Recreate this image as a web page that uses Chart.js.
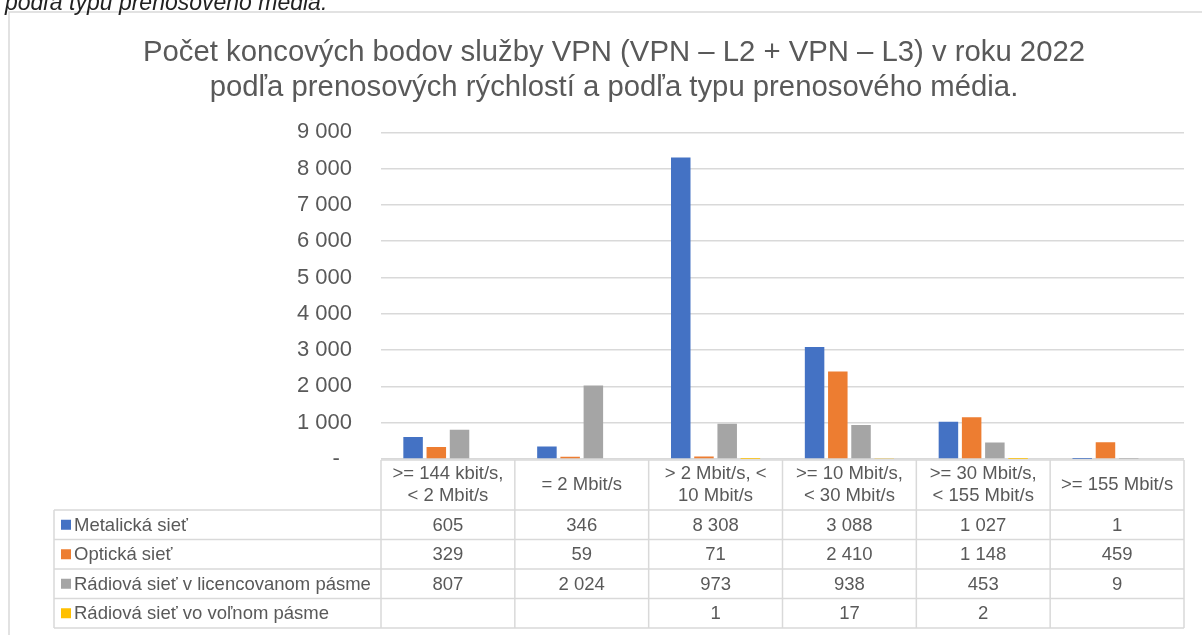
<!DOCTYPE html>
<html lang="sk">
<head>
<meta charset="utf-8">
<title>Koncové body VPN 2022</title>
<script src="https://cdn.jsdelivr.net/npm/chart.js@4.4.1/dist/chart.umd.min.js"></script>
<style>
    html, body { margin: 0; padding: 0; background: #fff; overflow: hidden; }
    #wrap { position: absolute; left: 0; top: 0; width: 1202px; height: 635px; }
    #caption {
        position: absolute; left: 5px; top: -9px; z-index: 2;
        font: italic 23px Arial, "Liberation Sans", sans-serif; line-height: 23px;
        color: #222; white-space: nowrap;
    }
</style>
</head>
<body>
<div id="wrap"><canvas id="vpnChart" width="1202" height="635"></canvas></div>
<div id="caption">podľa typu prenosového média.</div>
<script>
// Data
const categories = [
    ['>= 144 kbit/s,', '< 2 Mbit/s'],
    ['= 2 Mbit/s'],
    ['> 2 Mbit/s, <', '10 Mbit/s'],
    ['>= 10 Mbit/s,', '< 30 Mbit/s'],
    ['>= 30 Mbit/s,', '< 155 Mbit/s'],
    ['>= 155 Mbit/s']
];
const seriesNames = ['Metalická sieť', 'Optická sieť', 'Rádiová sieť v licencovanom pásme', 'Rádiová sieť vo voľnom pásme'];
const metalicka = [605, 346, 8308, 3088, 1027, 1];
const opticka = [329, 59, 71, 2410, 1148, 459];
const radioLicencovane = [807, 2024, 973, 938, 453, 9];
const radioVolne = [null, null, 1, 17, 2, null];
const yTicks = [0, 1000, 2000, 3000, 4000, 5000, 6000, 7000, 8000, 9000];
const titleLines = [
    'Počet koncových bodov služby VPN (VPN – L2 + VPN – L3) v roku 2022',
    'podľa prenosových rýchlostí a podľa typu prenosového média.'
];

const seriesColors = ['#4472C4', '#ED7D31', '#A5A5A5', '#FFC000'];
const FONT = 'Arial, "Liberation Sans", sans-serif';
const TEXT_COLOR = '#595959';
const LINE_COLOR = '#d9d9d9';

// 1 234 style numbers, as in the source table
function formatNumber(v) {
    return String(v).replace(/\B(?=(\d{3})+(?!\d))/g, ' ');
}

// Frame round the chart + the Excel style data table under the plot
const dataTablePlugin = {
    id: 'dataTable',
    beforeDraw(chart) {
        const ctx = chart.ctx;
        ctx.save();
        ctx.strokeStyle = LINE_COLOR;
        ctx.lineWidth = 1.5;
        ctx.strokeRect(9, 12, chart.width + 20, chart.height + 20);
        ctx.restore();
    },
    afterDraw(chart) {
        const { ctx, chartArea, scales } = chart;
        const x = scales.x;
        const datasets = chart.data.datasets;
        const colW = chartArea.width / categories.length;
        const headTop = chartArea.bottom + 1;
        const headBottom = headTop + 50;
        const rowH = 29.5;
        const tableLeft = 54;
        const tableBottom = headBottom + rowH * datasets.length;

        ctx.save();
        ctx.strokeStyle = LINE_COLOR;
        ctx.lineWidth = 1.5;
        ctx.beginPath();
        ctx.moveTo(chartArea.left, headTop);
        ctx.lineTo(chartArea.right, headTop);
        for (let r = 0; r <= datasets.length; r++) {
            const y = headBottom + r * rowH;
            ctx.moveTo(tableLeft, y);
            ctx.lineTo(chartArea.right, y);
        }
        ctx.moveTo(tableLeft, headBottom);
        ctx.lineTo(tableLeft, tableBottom);
        for (let i = 0; i <= categories.length; i++) {
            const cx = x.getPixelForValue(i) - colW / 2;
            ctx.moveTo(cx, headTop);
            ctx.lineTo(cx, tableBottom);
        }
        ctx.stroke();

        ctx.font = '18.5px ' + FONT;
        ctx.fillStyle = TEXT_COLOR;
        ctx.textBaseline = 'middle';
        ctx.textAlign = 'center';

        // category header row
        categories.forEach((lines, i) => {
            const cx = x.getPixelForValue(i);
            const mid = (headTop + headBottom) / 2;
            lines.forEach((line, k) => {
                ctx.fillText(line, cx, mid + (k - (lines.length - 1) / 2) * 22);
            });
        });

        // one row per series
        datasets.forEach((ds, r) => {
            const mid = headBottom + r * rowH + rowH / 2;
            ctx.textAlign = 'center';
            ctx.fillStyle = TEXT_COLOR;
            ds.data.forEach((v, i) => {
                if (v === null) return;
                ctx.fillText(formatNumber(v), x.getPixelForValue(i), mid + 1);
            });
            ctx.fillStyle = ds.backgroundColor;
            ctx.fillRect(tableLeft + 7, mid - 5, 10, 10);
            ctx.fillStyle = TEXT_COLOR;
            ctx.textAlign = 'left';
            ctx.fillText(ds.label, tableLeft + 20, mid + 1);
        });
        ctx.restore();
    }
};

const seriesValues = [metalicka, opticka, radioLicencovane, radioVolne];

new Chart(document.getElementById('vpnChart'), {
    type: 'bar',
    data: {
        labels: categories,
        datasets: seriesValues.map((values, i) => ({
            label: seriesNames[i],
            data: values,
            backgroundColor: seriesColors[i],
            borderWidth: 0,
            categoryPercentage: 0.694,
            barPercentage: 0.84
        }))
    },
    options: {
        responsive: false,
        animation: false,
        devicePixelRatio: 1,
        layout: { padding: { left: 44, right: 18, top: 0, bottom: 176 } },
        plugins: {
            legend: { display: false },
            tooltip: { enabled: false },
            title: {
                display: true,
                text: titleLines,
                color: TEXT_COLOR,
                font: { family: FONT, size: 29.3, weight: 'normal', lineHeight: 1.2 },
                padding: { top: 35, bottom: 27 }
            }
        },
        scales: {
            x: { display: false },
            y: {
                min: 0,
                max: 9000,
                afterBuildTicks(scale) {
                    scale.ticks = yTicks.map(v => ({ value: v }));
                },
                afterFit(scale) {
                    scale.width = 337;
                },
                border: { display: false },
                grid: { color: LINE_COLOR, lineWidth: 1.5, drawTicks: false },
                ticks: {
                    padding: 29,
                    color: TEXT_COLOR,
                    font: { family: FONT, size: 22 },
                    callback: v => (v === 0 ? '-  ' : formatNumber(v))
                }
            }
        }
    },
    plugins: [dataTablePlugin]
});
</script>
</body>
</html>
